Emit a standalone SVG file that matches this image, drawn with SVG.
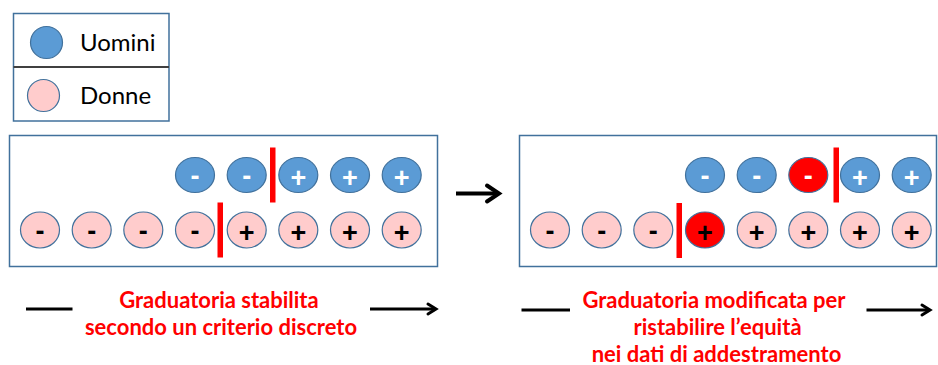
<svg xmlns="http://www.w3.org/2000/svg" width="938" height="365" viewBox="0 0 938 365">
<defs>
<style>
.box{fill:#fff;stroke:#41719C;stroke-width:1.5}
.m{fill:#5B9BD5;stroke:#41719C;stroke-width:1.2}
.w{fill:#FFCCCC;stroke:#41719C;stroke-width:1.2}
.r{fill:#FF0000;stroke:#41719C;stroke-width:1.2}
.bar{fill:#FF0000}
.sg{font-family:"Liberation Sans",Arial,sans-serif;font-weight:bold;font-size:27px;text-anchor:middle}
.wt{fill:#fff}
.bk{fill:#000}
.leg{font-family:Lato,"Liberation Sans",sans-serif;font-size:24px;fill:#000}
.lab{font-family:Lato,"Liberation Sans",sans-serif;font-weight:bold;font-size:22px;fill:#FF0000;text-anchor:middle}
.ln{stroke:#000;stroke-width:3;fill:none}
.hd{stroke:#000;fill:none;stroke-linecap:round;stroke-linejoin:miter}
</style>
</defs>
<g id="legend">
<rect x="13.5" y="13.5" width="155.5" height="107.5" class="box"/>
<line x1="13.5" y1="67" x2="169" y2="67" stroke="#404040" stroke-width="2"/>
<ellipse cx="46.5" cy="42.5" rx="16" ry="16" class="m"/>
<text x="80" y="51" class="leg">Uomini</text>
<ellipse cx="43.5" cy="95.5" rx="16" ry="16" class="w"/>
<text x="80" y="104" class="leg">Donne</text>
</g>
<g id="panel-left">
<rect x="9.5" y="135.5" width="428" height="131" class="box"/>
<g id="left-men">
<ellipse cx="195" cy="175" rx="19.5" ry="17.5" class="m"/><text x="195" y="184.5" class="sg wt">-</text>
<ellipse cx="246.7" cy="175" rx="19.5" ry="17.5" class="m"/><text x="246.7" y="184.5" class="sg wt">-</text>
<ellipse cx="298.3" cy="175" rx="19.5" ry="17.5" class="m"/><text x="298.3" y="186.5" class="sg wt">+</text>
<ellipse cx="350" cy="175" rx="19.5" ry="17.5" class="m"/><text x="350" y="186.5" class="sg wt">+</text>
<ellipse cx="401.7" cy="175" rx="19.5" ry="17.5" class="m"/><text x="401.7" y="186.5" class="sg wt">+</text>
</g>
<g id="left-women">
<ellipse cx="40" cy="230" rx="19.5" ry="18" class="w"/><text x="40" y="239.5" class="sg bk">-</text>
<ellipse cx="91.7" cy="230" rx="19.5" ry="18" class="w"/><text x="91.7" y="239.5" class="sg bk">-</text>
<ellipse cx="143.3" cy="230" rx="19.5" ry="18" class="w"/><text x="143.3" y="239.5" class="sg bk">-</text>
<ellipse cx="195" cy="230" rx="19.5" ry="18" class="w"/><text x="195" y="239.5" class="sg bk">-</text>
<ellipse cx="246.7" cy="230" rx="19.5" ry="18" class="w"/><text x="246.7" y="241.5" class="sg bk">+</text>
<ellipse cx="298.3" cy="230" rx="19.5" ry="18" class="w"/><text x="298.3" y="241.5" class="sg bk">+</text>
<ellipse cx="350" cy="230" rx="19.5" ry="18" class="w"/><text x="350" y="241.5" class="sg bk">+</text>
<ellipse cx="401.7" cy="230" rx="19.5" ry="18" class="w"/><text x="401.7" y="241.5" class="sg bk">+</text>
</g>
<rect x="270" y="147.5" width="5.5" height="55" class="bar"/>
<rect x="217.5" y="202.5" width="5.5" height="55" class="bar"/>
</g>
<g id="panel-right">
<rect x="519.5" y="135.5" width="417" height="131" class="box"/>
<g id="right-men">
<ellipse cx="705" cy="175" rx="19.5" ry="17.5" class="m"/><text x="705" y="184.5" class="sg wt">-</text>
<ellipse cx="756.7" cy="175" rx="19.5" ry="17.5" class="m"/><text x="756.7" y="184.5" class="sg wt">-</text>
<ellipse cx="808.3" cy="175" rx="19.5" ry="17.5" class="r"/><text x="808.3" y="184.5" class="sg wt">-</text>
<ellipse cx="860" cy="175" rx="19.5" ry="17.5" class="m"/><text x="860" y="186.5" class="sg wt">+</text>
<ellipse cx="911.7" cy="175" rx="19.5" ry="17.5" class="m"/><text x="911.7" y="186.5" class="sg wt">+</text>
</g>
<g id="right-women">
<ellipse cx="550" cy="230" rx="19.5" ry="18" class="w"/><text x="550" y="239.5" class="sg bk">-</text>
<ellipse cx="601.7" cy="230" rx="19.5" ry="18" class="w"/><text x="601.7" y="239.5" class="sg bk">-</text>
<ellipse cx="653.3" cy="230" rx="19.5" ry="18" class="w"/><text x="653.3" y="239.5" class="sg bk">-</text>
<ellipse cx="705" cy="230" rx="19.5" ry="18" class="r"/><text x="705" y="241.5" class="sg bk">+</text>
<ellipse cx="756.7" cy="230" rx="19.5" ry="18" class="w"/><text x="756.7" y="241.5" class="sg bk">+</text>
<ellipse cx="808.3" cy="230" rx="19.5" ry="18" class="w"/><text x="808.3" y="241.5" class="sg bk">+</text>
<ellipse cx="860" cy="230" rx="19.5" ry="18" class="w"/><text x="860" y="241.5" class="sg bk">+</text>
<ellipse cx="911.7" cy="230" rx="19.5" ry="18" class="w"/><text x="911.7" y="241.5" class="sg bk">+</text>
</g>
<rect x="833.5" y="147.5" width="5.5" height="55" class="bar"/>
<rect x="676.5" y="203" width="5.5" height="55" class="bar"/>
</g>
<g id="connectors">
<line x1="456" y1="193.5" x2="498" y2="193.5" stroke="#000" stroke-width="4"/>
<path d="M487,185.5 L499,193.5 L487,201.5" class="hd" stroke-width="4"/>
<line x1="26" y1="309" x2="72.5" y2="309" class="ln"/>
<line x1="370" y1="309" x2="435" y2="309" class="ln"/>
<path d="M428,304 L436,309 L428,314" class="hd" stroke-width="3"/>
<line x1="521.5" y1="310" x2="570" y2="310" class="ln"/>
<line x1="866.5" y1="310" x2="929" y2="310" class="ln"/>
<path d="M922,305 L930,310 L922,315" class="hd" stroke-width="3"/>
</g>
<g id="labels">
<text x="219" y="307.5" class="lab">Graduatoria stabilita</text>
<text x="221" y="335" class="lab">secondo un criterio discreto</text>
<text x="714" y="307.5" class="lab">Graduatoria modificata per</text>
<text x="717.5" y="335" class="lab">ristabilire l’equità</text>
<text x="716.5" y="361.5" class="lab">nei dati di addestramento</text>
</g>
</svg>
